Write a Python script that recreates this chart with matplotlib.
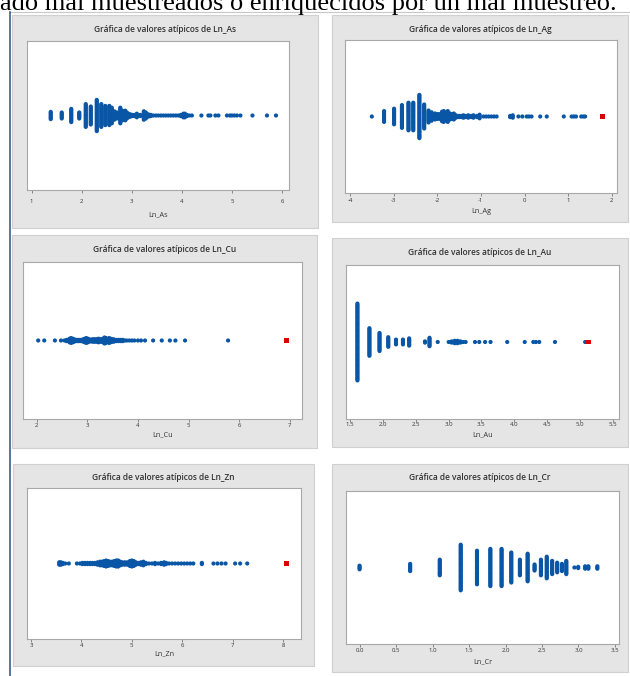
import matplotlib
matplotlib.use("Agg")
import matplotlib.pyplot as plt
from matplotlib.patches import Rectangle
from matplotlib.lines import Line2D

W, H = 630, 676

DOT_BLUE = "#0a56a6"
OUT_RED = "#d90000"

# --- data: stacked individual values for each variable -----------------
as_values = [1.38, 1.60, 1.79, 1.95, 2.08, 2.18, 2.30, 2.39, 2.47, 2.55,
             2.60, 2.65, 2.70, 2.77, 2.81, 2.84, 2.87, 2.90, 2.93, 2.97,
             3.02, 3.06, 3.10, 3.17, 3.24, 3.28, 3.33, 3.38, 3.43, 3.48,
             3.53, 3.58, 3.63, 3.68, 3.73, 3.78, 3.83, 3.88, 3.93, 3.98,
             4.03, 4.06, 4.10, 4.15, 4.20, 4.39, 4.53, 4.57, 4.67, 4.73,
             4.90, 4.96, 5.00, 5.05, 5.10, 5.17, 5.41, 5.70, 5.88]
as_counts = [7, 6, 12, 6, 20, 16, 27, 20, 17, 17,
             14, 8, 6, 14, 9, 8, 9, 6, 4, 3,
             2, 2, 4, 2, 8, 6, 3, 2, 1, 1,
             1, 1, 1, 1, 1, 1, 1, 1, 1, 2,
             4, 4, 2, 1, 1, 1, 1, 1, 1, 1,
             1, 1, 1, 1, 1, 1, 1, 1, 1]
as_outliers = []

ag_values = [-3.50, -3.22, -2.99, -2.81, -2.66, -2.55, -2.41, -2.30, -2.20, -2.13,
             -2.05, -1.99, -1.94, -1.89, -1.85, -1.80, -1.76, -1.71, -1.66, -1.62,
             -1.57, -1.50, -1.45, -1.40, -1.35, -1.29, -1.22, -1.17, -1.09, -1.03,
             -0.94, -0.88, -0.82, -0.76, -0.70, -0.64, -0.33, -0.27, -0.14, -0.05,
             0.05, 0.10, 0.16, 0.36, 0.51, 0.90, 1.08, 1.13, 1.18, 1.30,
             1.35, 1.39]
ag_counts = [1, 10, 14, 20, 24, 24, 37, 21, 11, 8,
             6, 5, 5, 9, 10, 6, 10, 6, 5, 6,
             3, 2, 2, 3, 2, 3, 2, 3, 2, 4,
             1, 1, 1, 1, 1, 1, 2, 3, 1, 1,
             1, 1, 1, 1, 1, 1, 1, 1, 1, 1,
             1, 1]
ag_outliers = [1.78]

cu_values = [2.03, 2.15, 2.36, 2.48, 2.55, 2.59, 2.62, 2.65, 2.68, 2.71,
             2.74, 2.77, 2.80, 2.83, 2.86, 2.89, 2.92, 2.95, 2.98, 3.01,
             3.04, 3.07, 3.10, 3.13, 3.16, 3.19, 3.22, 3.25, 3.28, 3.31,
             3.34, 3.37, 3.40, 3.43, 3.46, 3.49, 3.52, 3.55, 3.58, 3.62,
             3.66, 3.70, 3.74, 3.78, 3.83, 3.88, 3.93, 4.00, 4.06, 4.14,
             4.30, 4.47, 4.63, 4.74, 4.93, 5.78]
cu_counts = [1, 1, 1, 1, 1, 2, 2, 4, 5, 4,
             3, 2, 2, 2, 2, 2, 3, 4, 5, 4,
             3, 2, 3, 3, 3, 3, 4, 3, 3, 4,
             6, 5, 3, 5, 4, 3, 3, 2, 2, 2,
             2, 2, 1, 1, 1, 1, 1, 1, 1, 1,
             1, 1, 1, 1, 1, 1]
cu_outliers = [6.93]

au_values = [1.609, 1.792, 1.946, 2.079, 2.197, 2.303, 2.398, 2.639, 2.708, 2.833,
             3.000, 3.045, 3.091, 3.135, 3.178, 3.219, 3.258, 3.401, 3.466, 3.555,
             3.638, 3.892, 4.159, 4.290, 4.330, 4.380, 4.620, 5.080]
au_counts = [65, 24, 16, 9, 5, 5, 7, 2, 8, 1,
             1, 2, 3, 3, 2, 1, 1, 1, 1, 1,
             1, 1, 1, 1, 1, 1, 1, 1]
au_outliers = [5.13]

zn_values = [3.56, 3.59, 3.63, 3.68, 3.75, 3.91, 3.97, 4.02, 4.07, 4.12,
             4.17, 4.22, 4.27, 4.32, 4.37, 4.41, 4.45, 4.49, 4.53, 4.57,
             4.61, 4.65, 4.69, 4.73, 4.77, 4.81, 4.86, 4.91, 4.96, 5.00,
             5.04, 5.08, 5.13, 5.18, 5.23, 5.28, 5.34, 5.40, 5.46, 5.52,
             5.58, 5.64, 5.68, 5.74, 5.80, 5.86, 5.92, 5.98, 6.04, 6.10,
             6.16, 6.22, 6.39, 6.62, 6.70, 6.78, 6.86, 7.05, 7.15, 7.29]
zn_counts = [3, 3, 2, 1, 1, 1, 1, 2, 2, 2,
             2, 2, 2, 3, 4, 4, 5, 6, 5, 4,
             4, 5, 6, 6, 4, 3, 3, 3, 5, 6,
             5, 3, 2, 3, 4, 2, 1, 1, 2, 1,
             2, 3, 2, 1, 1, 1, 1, 1, 1, 1,
             1, 1, 2, 1, 1, 1, 1, 1, 1, 1]
zn_outliers = [8.07]

cr_values = [0.000, 0.693, 1.099, 1.386, 1.609, 1.792, 1.946, 2.079, 2.197, 2.303,
             2.398, 2.485, 2.565, 2.639, 2.708, 2.773, 2.833, 2.944, 2.996, 3.091,
             3.135, 3.258]
cr_counts = [4, 7, 14, 39, 29, 32, 32, 26, 14, 24,
             6, 14, 19, 12, 9, 7, 12, 1, 2, 3,
             3, 3]
cr_outliers = []

as_ticks = [1, 2, 3, 4, 5, 6]
ag_ticks = [-4, -3, -2, -1, 0, 1, 2]
cu_ticks = [2, 3, 4, 5, 6, 7]
au_ticks = [1.5, 2.0, 2.5, 3.0, 3.5, 4.0, 4.5, 5.0, 5.5]
zn_ticks = [3, 4, 5, 6, 7, 8]
cr_ticks = [0.0, 0.5, 1.0, 1.5, 2.0, 2.5, 3.0, 3.5]

as_labels = ["1", "2", "3", "4", "5", "6"]
ag_labels = ["-4", "-3", "-2", "-1", "0", "1", "2"]
cu_labels = ["2", "3", "4", "5", "6", "7"]
au_labels = ["1.5", "2.0", "2.5", "3.0", "3.5", "4.0", "4.5", "5.0", "5.5"]
zn_labels = ["3", "4", "5", "6", "7", "8"]
cr_labels = ["0.0", "0.5", "1.0", "1.5", "2.0", "2.5", "3.0", "3.5"]

# layout in pixels: gray box, plot area, x range, title y, tick pad, xlabel y
panels = [
    dict(name="Ln_As", vals=as_values, cnts=as_counts, outl=as_outliers,
         ticks=as_ticks, labels=as_labels,
         box=(12, 15, 318, 228), area=(27, 41, 289, 190), xlim=(0.906, 6.14),
         title_y=29, pad=4.5, xlabel_y=215),
    dict(name="Ln_Ag", vals=ag_values, cnts=ag_counts, outl=ag_outliers,
         ticks=ag_ticks, labels=ag_labels,
         box=(332, 15, 628, 222), area=(345, 40, 617, 193), xlim=(-4.115, 2.12),
         title_y=29, pad=1.5, xlabel_y=211.5),
    dict(name="Ln_Cu", vals=cu_values, cnts=cu_counts, outl=cu_outliers,
         ticks=cu_ticks, labels=cu_labels,
         box=(12, 235, 317, 448), area=(23, 262, 302, 419), xlim=(1.73, 7.24),
         title_y=250, pad=0.6, xlabel_y=435),
    dict(name="Ln_Au", vals=au_values, cnts=au_counts, outl=au_outliers,
         ticks=au_ticks, labels=au_labels,
         box=(332, 238, 628, 447), area=(346, 265, 619, 419), xlim=(1.435, 5.596),
         title_y=252.5, pad=0.3, xlabel_y=435),
    dict(name="Ln_Zn", vals=zn_values, cnts=zn_counts, outl=zn_outliers,
         ticks=zn_ticks, labels=zn_labels,
         box=(13, 464, 314, 666), area=(27, 488, 301, 639), xlim=(2.92, 8.357),
         title_y=478, pad=0.6, xlabel_y=654),
    dict(name="Ln_Cr", vals=cr_values, cnts=cr_counts, outl=cr_outliers,
         ticks=cr_ticks, labels=cr_labels,
         box=(332, 464, 628, 672), area=(346, 491, 619, 644), xlim=(-0.186, 3.555),
         title_y=478, pad=1.0, xlabel_y=661.5),
]

STEP_PX = 1.2  # vertical spacing between stacked ties, in pixels

fig = plt.figure(figsize=(W / 100, H / 100), dpi=100)
fig.patch.set_facecolor("white")

# running text of the page above the charts (its top runs off the page)
fig.text(0.0, 1 - 10 / H, "ado mal muestreados o enriquecidos por un mal muestreo.",
         family="Liberation Serif", fontsize=19, ha="left", va="baseline",
         color="black")

# table borders
fig.add_artist(Line2D([10 / W, 1], [1 - 11.5 / H, 1 - 11.5 / H], color="#c8c8c8",
                      lw=0.8, transform=fig.transFigure))
fig.add_artist(Line2D([10 / W, 10 / W], [0, 1 - 11.5 / H], color="#3d5f8e",
                      lw=1.2, transform=fig.transFigure))


def frac(x0, y0, x1, y1):
    return [x0 / W, 1 - y1 / H, (x1 - x0) / W, (y1 - y0) / H]


for p in panels:
    bx = frac(*p["box"])
    fig.add_artist(Rectangle((bx[0], bx[1]), bx[2], bx[3], transform=fig.transFigure,
                             facecolor="#e5e5e5", edgecolor="#d0d0d0", lw=0.8, zorder=0))

    ax = fig.add_axes(frac(*p["area"]))
    ax.set_facecolor("white")
    ax.set_xlim(*p["xlim"])
    ax.set_ylim(-1, 1)

    height_px = p["area"][3] - p["area"][1]
    step = 2 * STEP_PX / height_px
    xs, ys = [], []
    for v, n in zip(p["vals"], p["cnts"]):
        for i in range(n):
            xs.append(v)
            ys.append((i - (n - 1) / 2) * step)
    ax.scatter(xs, ys, s=9, color=DOT_BLUE, edgecolors="none", zorder=3)
    if p["outl"]:
        ax.scatter(p["outl"], [0] * len(p["outl"]), s=12, marker="s",
                   color=OUT_RED, edgecolors="none", zorder=4)

    for sp in ax.spines.values():
        sp.set_color("#a8a8a8")
        sp.set_linewidth(0.8)
    ax.set_yticks([])
    ax.set_xticks(p["ticks"])
    ax.set_xticklabels(p["labels"], family="Open Sans", fontsize=4.3, color="#333333")
    ax.tick_params(axis="x", length=2, width=0.6, color="#777777", pad=p["pad"])

    ax.set_xlabel(p["name"], family="Open Sans", fontsize=5.2, color="#333333")
    ax.xaxis.set_label_coords(0.5, (p["area"][3] - p["xlabel_y"]) / height_px)
    ax.xaxis.label.set_va("center")

    cx = (p["box"][0] + p["box"][2]) / 2
    fig.text(cx / W, 1 - p["title_y"] / H, f"Gráfica de valores atípicos de {p['name']}",
             family="Open Sans", fontsize=6.0, fontweight="semibold", color="#333333",
             ha="center", va="center")

fig.savefig("out.png", dpi=100)
